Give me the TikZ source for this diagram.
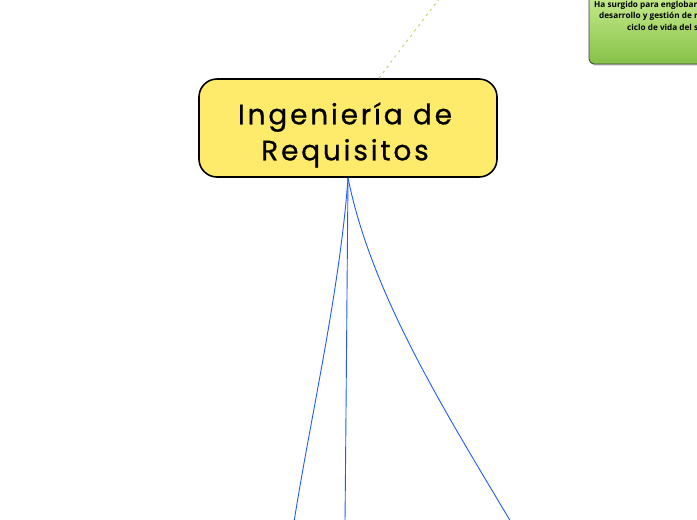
\documentclass[tikz,border=0pt]{standalone}
\usepackage{fontspec}
\setmainfont{Open Sans}
\newfontfamily\titlefont[FakeBold=0.7,LetterSpace=10]{Poppins}
\usetikzlibrary{shadows}
\definecolor{titlefill}{HTML}{FFEB6B}
\definecolor{linkblue}{HTML}{1F5BFF}
\definecolor{dashgreen}{HTML}{B8DC72}
\definecolor{notetop}{HTML}{CBEE92}
\definecolor{notebot}{HTML}{86C148}
\tikzset{
  titlebox/.style={draw=black, line width=1.6pt, fill=titlefill, rounded corners=18pt,
    minimum width=298pt, minimum height=98pt, inner sep=0pt},
  titletext/.style={align=center, inner sep=0pt, font=\titlefont\fontsize{28}{36}\selectfont},
  link/.style={draw=linkblue, line width=0.9pt},
  notelink/.style={draw=dashgreen, line width=1pt, dash pattern=on 2.5pt off 4pt},
  notebox/.style={draw=black!75, line width=0.8pt, rounded corners=5pt,
    top color=notetop, bottom color=notebot, drop shadow={shadow xshift=1pt, shadow yshift=-1.5pt, opacity=0.4}},
  notetext/.style={font=\bfseries\fontsize{8.2}{10}\selectfont, anchor=base west, inner sep=0pt}
}
\begin{document}
\begin{tikzpicture}[x=1pt,y=-1pt]
\useasboundingbox (0,0) rectangle (697,520);
\clip (0,0) rectangle (697,520);
% note box
\node[notebox, minimum width=180pt, minimum height=75pt, inner sep=0pt] (note) at (679,26.5) {};
\node[notetext] (n1) at (594,7) {Ha surgido para englobar};
\node[notetext] (n2) at (599,18.5) {desarrollo y gestión de r};
\node[notetext] (n3) at (627,30) {ciclo de vida del s};
% title
\node[titlebox] (title) at (348,128) {};
\node[titletext] (tt) at (345,135) {Ingeniería de\\Requisitos};
\coordinate (c1) at (294,522);
\coordinate (c2) at (345,522);
\coordinate (c3) at (511,522);
\coordinate (up) at (470,-40);
\draw[link] (title.south) .. controls (340,290) and (310,420) .. (c1);
\draw[link] (title.south) .. controls (347,290) and (346,420) .. (c2);
\draw[link] (title.south) .. controls (371,292) and (441,405) .. (c3);
\draw[notelink] ([xshift=31pt]title.north) .. controls (400,50) and (430,10) .. (up);
\end{tikzpicture}
\end{document}
